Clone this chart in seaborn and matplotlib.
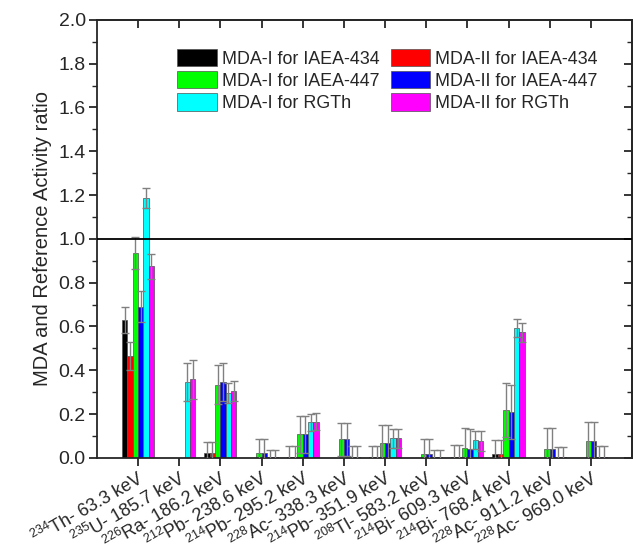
import numpy as np
import pandas as pd
import matplotlib
matplotlib.use('Agg')
import matplotlib.pyplot as plt
from matplotlib.ticker import MultipleLocator, FixedLocator
import seaborn as sns

# ── Data ──────────────────────────────────────────────────────────────────────
nan = np.nan
lines = [r'$^\mathrm{234}$Th- 63.3 keV', r'$^\mathrm{235}$U- 185.7 keV',
         r'$^\mathrm{226}$Ra- 186.2 keV', r'$^\mathrm{212}$Pb- 238.6 keV',
         r'$^\mathrm{214}$Pb- 295.2 keV', r'$^\mathrm{228}$Ac- 338.3 keV',
         r'$^\mathrm{214}$Pb- 351.9 keV', r'$^\mathrm{208}$Tl- 583.2 keV',
         r'$^\mathrm{214}$Bi- 609.3 keV', r'$^\mathrm{214}$Bi- 768.4 keV',
         r'$^\mathrm{228}$Ac- 911.2 keV', r'$^\mathrm{228}$Ac- 969.0 keV']

series = ['MDA-I for IAEA-434', 'MDA-II for IAEA-434',
          'MDA-I for IAEA-447', 'MDA-II for IAEA-447',
          'MDA-I for RGTh', 'MDA-II for RGTh']
colors = ['#000000', '#ff0000', '#00ff00', '#0000ff', '#00ffff', '#ff00ff']

mda1_434 = [0.630, nan, 0.024, nan, 0.003, nan, 0.003, nan, 0.003, 0.020, nan, nan]
err1_434 = [0.060, nan, 0.047, nan, 0.053, nan, 0.049, nan, 0.055, 0.063, nan, nan]
mda2_434 = [0.465, nan, 0.024, nan, 0.004, nan, 0.003, nan, 0.004, 0.020, nan, nan]
err2_434 = [0.063, nan, 0.047, nan, 0.052, nan, 0.049, nan, 0.054, 0.063, nan, nan]
mda1_447 = [0.936, nan, 0.335, 0.023, 0.108, 0.085, 0.066, 0.020, 0.043, 0.218, 0.039, 0.075]
err1_447 = [0.074, nan, 0.087, 0.065, 0.085, 0.076, 0.085, 0.067, 0.093, 0.122, 0.098, 0.090]
mda2_447 = [0.690, nan, 0.347, 0.023, 0.108, 0.085, 0.066, 0.020, 0.040, 0.210, 0.039, 0.075]
err2_447 = [0.070, nan, 0.087, 0.065, 0.085, 0.076, 0.085, 0.067, 0.094, 0.123, 0.098, 0.090]
mda1_rgth = [1.188, 0.348, 0.297, 0.003, 0.162, 0.004, 0.089, 0.003, 0.082, 0.593, 0.003, 0.004]
err1_rgth = [0.046, 0.087, 0.047, 0.034, 0.040, 0.052, 0.042, 0.031, 0.040, 0.041, 0.048, 0.050]
mda2_rgth = [0.874, 0.359, 0.307, 0.003, 0.166, 0.004, 0.089, 0.003, 0.077, 0.573, 0.003, 0.005]
err2_rgth = [0.055, 0.088, 0.046, 0.034, 0.038, 0.052, 0.042, 0.031, 0.046, 0.043, 0.048, 0.050]

values = [mda1_434, mda2_434, mda1_447, mda2_447, mda1_rgth, mda2_rgth]
errors = [err1_434, err2_434, err1_447, err2_447, err1_rgth, err2_rgth]

rows = []
for s, vals, errs in zip(series, values, errors):
    for cat, v, e in zip(lines, vals, errs):
        if not np.isnan(v):
            rows.append({'line': cat, 'series': s, 'value': v, 'err': e})
df = pd.DataFrame(rows)

# ── Plot ──────────────────────────────────────────────────────────────────────
sns.set_style('ticks')
plt.rcParams['font.family'] = ['Liberation Sans', 'DejaVu Sans']
plt.rcParams['mathtext.fontset'] = 'custom'
plt.rcParams['mathtext.rm'] = 'Liberation Sans'
plt.rcParams['mathtext.it'] = 'Liberation Sans:italic'
plt.rcParams['mathtext.bf'] = 'Liberation Sans:bold'

fig, ax = plt.subplots(figsize=(6.33, 5.51), dpi=100)
fig.subplots_adjust(left=0.153, right=0.9985, top=0.964, bottom=0.169)

sns.barplot(data=df, x='line', y='value', hue='series', order=lines,
            hue_order=series, palette=colors, width=0.78, errorbar=None,
            edgecolor='#505050', linewidth=0.5, saturation=1, ax=ax)

# error bars on each bar (centre taken from the drawn patches)
for cont, s in zip(ax.containers, series):
    sub = df[df['series'] == s].set_index('line')
    for bar in cont:
        cx = bar.get_x() + bar.get_width() / 2
        cat = lines[int(round(cx))]
        ax.errorbar(cx, sub.loc[cat, 'value'], yerr=sub.loc[cat, 'err'],
                    fmt='none', ecolor='#808080', elinewidth=1,
                    capsize=3, capthick=1, zorder=3)

ax.axhline(1.0, color='black', linewidth=1.3, zorder=4)

ax.set_xlim(-1, len(lines))
ax.set_ylim(0, 2.0)
ax.yaxis.set_major_locator(MultipleLocator(0.2))
ax.yaxis.set_minor_locator(MultipleLocator(0.1))
ax.set_xlabel('')
ax.set_ylabel('MDA and Reference Activity ratio', fontsize=14.5, labelpad=5)

for sp in ax.spines.values():
    sp.set_visible(True)
    sp.set_linewidth(1.3)

ax.tick_params(axis='y', which='major', direction='out', length=6, width=1.3,
               labelsize=14, right=False, pad=2)
ax.tick_params(axis='y', which='minor', direction='out', length=3.5, width=1.0,
               right=False)
ax.tick_params(axis='x', which='major', direction='out', length=6, width=1.3,
               labelsize=13, top=False, pad=1)
ax.yaxis.set_major_formatter(matplotlib.ticker.FormatStrFormatter('%.1f'))
plt.setp(ax.get_xticklabels(), rotation=30, ha='right', va='top',
         rotation_mode='anchor')

# inward ticks on the top and right frame
sec_y = ax.secondary_yaxis('right')
sec_y.yaxis.set_major_locator(MultipleLocator(0.2))
sec_y.yaxis.set_minor_locator(MultipleLocator(0.1))
sec_y.tick_params(which='major', direction='in', length=6, width=1.3, labelright=False)
sec_y.tick_params(which='minor', direction='in', length=3.5, width=1.0)
sec_y.spines['right'].set_linewidth(1.3)
sec_x = ax.secondary_xaxis('top')
sec_x.xaxis.set_major_locator(FixedLocator(range(len(lines))))
sec_x.tick_params(which='major', direction='in', length=6, width=1.3, labeltop=False)
sec_x.spines['top'].set_linewidth(1.3)

ax.get_legend().remove()
handles = [ax.containers[i].patches[0] for i in range(len(series))]
order = [0, 2, 4, 1, 3, 5]
ax.legend([handles[i] for i in order], [series[i] for i in order],
          ncol=2, loc='upper left', bbox_to_anchor=(0.137, 0.95),
          frameon=False, fontsize=12.9, handlelength=2.2, handleheight=1.1,
          handletextpad=0.3, columnspacing=0.6, labelspacing=0.2,
          borderaxespad=0)

fig.savefig('out.png', dpi=100, facecolor='white')
